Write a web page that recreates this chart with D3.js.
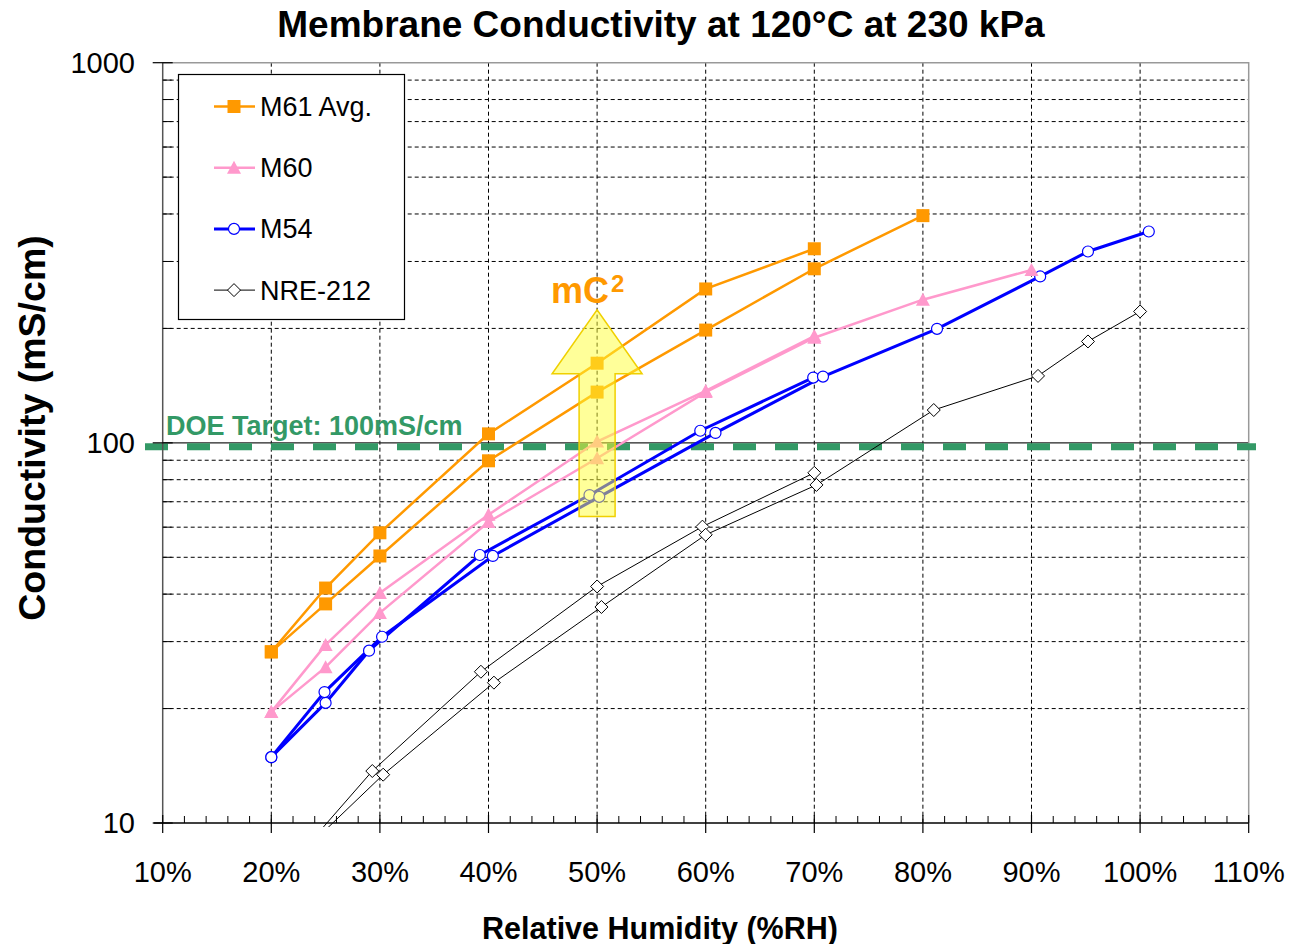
<!DOCTYPE html>
<html>
<head>
<meta charset="utf-8">
<script src="https://cdn.jsdelivr.net/npm/d3@7"></script>
<style>
  body { margin: 0; background: #fff; }
  svg { display: block; font-family: "Liberation Sans", Arial, sans-serif; }
</style>
</head>
<body>
<svg id="chart" width="1291" height="944"></svg>
<script>
// data (RH in %, conductivity in mS/cm)
var m61aRH  = [20, 25, 30, 40, 50, 60, 70];
var m61aVal = [28.2, 41.5, 58.0, 105.6, 162, 254, 324];
var m61bRH  = [20, 25, 30, 40, 50, 60, 70, 80];
var m61bVal = [28.2, 37.7, 50.4, 89.7, 136, 198, 287, 396];

var m60aRH  = [20, 25, 30, 40, 50, 60, 70];
var m60aVal = [19.6, 29.4, 40.3, 64.7, 100.8, 137, 191];
var m60bRH  = [20, 25, 30, 40, 50, 60, 70, 80, 90];
var m60bVal = [19.6, 25.7, 35.7, 61.9, 91.1, 136, 189, 238, 285];

var m54aRH  = [20, 25, 29, 39.2, 49.3, 59.5, 69.9];
var m54aVal = [14.9, 20.7, 28.4, 50.7, 72.9, 107.6, 148.5];
var m54bRH  = [20, 24.9, 30.2, 40.4, 50.2, 60.9, 70.8, 81.3, 90.8, 95.2, 100.8];
var m54bVal = [14.9, 22.1, 30.9, 50.4, 72.1, 106.2, 149.4, 199.5, 274, 318.7, 359.7];

var nreaRH  = [20, 29.3, 39.3, 50, 59.7, 70];
var nreaVal = [6.8, 13.7, 25.0, 41.9, 60.2, 83.4];
var nrebRH  = [20, 30.3, 40.5, 50.4, 60, 70.2, 81, 90.6, 95.2, 100];
var nrebVal = [7.0, 13.4, 23.4, 37.0, 57.3, 77.5, 122, 150, 184.8, 221.6];

var xTicks = [10, 20, 30, 40, 50, 60, 70, 80, 90, 100, 110];
var yTicks = [10, 100, 1000];
var yMinor = [20, 30, 40, 50, 60, 70, 80, 90, 200, 300, 400, 500, 600, 700, 800, 900];
var legendNames = ['M61 Avg.', 'M60', 'M54', 'NRE-212'];
var doeTarget = 100;
var arrowRH = 50, arrowFrom = 64, arrowBase = 152, arrowTip = 224;

// "top" is taken by window.top, so plot edges get their own names
var pLeft = 162.7, pRight = 1248.7, pTop = 62.7, pBottom = 823;
var x = d3.scaleLinear().domain([10, 110]).range([pLeft, pRight]);
var y = d3.scaleLog().domain([10, 1000]).range([pBottom, pTop]);
var svg = d3.select('#chart');

function zip(rh, val) {
  return rh.map(function(d, i) { return { rh: d, v: val[i] }; });
}

var series = [
  { name: legendNames[0], color: '#FF9900', width: 2.5, marker: 'square', lines: [zip(m61aRH, m61aVal), zip(m61bRH, m61bVal)] },
  { name: legendNames[1], color: '#FF99CC', width: 2.5, marker: 'triangle', lines: [zip(m60aRH, m60aVal), zip(m60bRH, m60bVal)] },
  { name: legendNames[2], color: '#0000FF', width: 3, marker: 'circle', lines: [zip(m54aRH, m54aVal), zip(m54bRH, m54bVal)] },
  { name: legendNames[3], color: '#000000', width: 1, marker: 'diamond', lines: [zip(nreaRH, nreaVal), zip(nrebRH, nrebVal)] }
];

function drawMarker(g, type, color, cx, cy) {
  if (type === 'square') {
    g.append('rect').attr('x', cx - 6.5).attr('y', cy - 6.5).attr('width', 13).attr('height', 13)
      .attr('fill', color);
  } else if (type === 'triangle') {
    g.append('path').attr('d', 'M' + cx + ',' + (cy - 7) + 'L' + (cx + 7) + ',' + (cy + 6) + 'L' + (cx - 7) + ',' + (cy + 6) + 'Z')
      .attr('fill', color);
  } else if (type === 'circle') {
    g.append('circle').attr('cx', cx).attr('cy', cy).attr('r', 5.5)
      .attr('fill', '#fff').attr('stroke', color).attr('stroke-width', 1.2);
  } else {
    g.append('path').attr('d', 'M' + cx + ',' + (cy - 6.5) + 'L' + (cx + 6.5) + ',' + cy + 'L' + cx + ',' + (cy + 6.5) + 'L' + (cx - 6.5) + ',' + cy + 'Z')
      .attr('fill', '#fff').attr('stroke', color).attr('stroke-width', 1);
  }
}

function gridSetup() {
  var grid = svg.append('g');
  grid.selectAll('.hgrid').data(yMinor).enter().append('line')
    .attr('x1', pLeft).attr('x2', pRight)
    .attr('y1', function(d) { return y(d); }).attr('y2', function(d) { return y(d); })
    .attr('stroke', '#000').attr('stroke-width', 1).attr('stroke-dasharray', '4,3');
  grid.selectAll('.vgrid').data(xTicks.slice(1, -1)).enter().append('line')
    .attr('x1', function(d) { return x(d); }).attr('x2', function(d) { return x(d); })
    .attr('y1', pTop).attr('y2', pBottom)
    .attr('stroke', '#000').attr('stroke-width', 1).attr('stroke-dasharray', '4,3');
  // solid line at 100 and plot border
  grid.append('line').attr('x1', pLeft).attr('x2', pRight).attr('y1', y(100)).attr('y2', y(100))
    .attr('stroke', '#222').attr('stroke-width', 1.2);
  grid.append('path')
    .attr('d', 'M' + pLeft + ',' + pTop + 'H' + pRight + 'V' + pBottom)
    .attr('fill', 'none').attr('stroke', '#999').attr('stroke-width', 1.5);
}

function axesSetup() {
  var g = svg.append('g');
  var xMinor = d3.range(12, 110, 2).filter(function(d) { return d % 10 !== 0; });
  var yMinorTicks = d3.range(2, 10).map(function(d) { return d * 10; })
    .concat(d3.range(2, 10).map(function(d) { return d * 100; }));

  g.append('line').attr('x1', pLeft).attr('x2', pLeft).attr('y1', pTop).attr('y2', pBottom)
    .attr('stroke', '#555').attr('stroke-width', 1.5);
  g.append('line').attr('x1', pLeft - 9).attr('x2', pRight).attr('y1', pBottom).attr('y2', pBottom)
    .attr('stroke', '#000').attr('stroke-width', 1.5);

  g.selectAll('.xmaj').data(xTicks).enter().append('line')
    .attr('x1', function(d) { return x(d); }).attr('x2', function(d) { return x(d); })
    .attr('y1', pBottom - 8).attr('y2', pBottom + 10).attr('stroke', '#000').attr('stroke-width', 1.2);
  g.selectAll('.xmin').data(xMinor).enter().append('line')
    .attr('x1', function(d) { return x(d); }).attr('x2', function(d) { return x(d); })
    .attr('y1', pBottom - 7).attr('y2', pBottom).attr('stroke', '#000').attr('stroke-width', 1);
  g.selectAll('.ymaj').data(yTicks).enter().append('line')
    .attr('x1', pLeft - 10).attr('x2', pLeft + 10)
    .attr('y1', function(d) { return y(d); }).attr('y2', function(d) { return y(d); })
    .attr('stroke', '#000').attr('stroke-width', 1.2);
  g.selectAll('.ymin').data(yMinorTicks).enter().append('line')
    .attr('x1', pLeft).attr('x2', pLeft + 9)
    .attr('y1', function(d) { return y(d); }).attr('y2', function(d) { return y(d); })
    .attr('stroke', '#000').attr('stroke-width', 1);

  g.selectAll('.xlab').data(xTicks).enter().append('text')
    .attr('x', function(d) { return x(d); }).attr('y', 882)
    .attr('text-anchor', 'middle').style('font-size', '29px')
    .text(function(d) { return d + '%'; });
  g.selectAll('.ylab').data(yTicks).enter().append('text')
    .attr('x', 135).attr('y', function(d) { return y(d) + 10; })
    .attr('text-anchor', 'end').style('font-size', '29px')
    .text(function(d) { return d; });
}

function targetSetup() {
  svg.append('line')
    .attr('x1', 145).attr('x2', 1256)
    .attr('y1', y(doeTarget) + 4).attr('y2', y(doeTarget) + 4)
    .attr('stroke', '#339966').attr('stroke-width', 7).attr('stroke-dasharray', '23,19');
  svg.append('text')
    .attr('x', 166).attr('y', 435)
    .attr('fill', '#339966').style('font-size', '27px').style('font-weight', 'bold')
    .text('DOE Target: 100mS/cm');
}

function seriesSetup() {
  svg.append('clipPath').attr('id', 'plotclip').append('rect')
    .attr('x', pLeft).attr('y', pTop - 10).attr('width', pRight - pLeft + 10).attr('height', pBottom - pTop + 14);
  var line = d3.line().x(function(d) { return x(d.rh); }).y(function(d) { return y(d.v); });
  var root = svg.append('g').attr('clip-path', 'url(#plotclip)');

  series.slice().reverse().forEach(function(s) {
    var g = root.append('g');
    s.lines.forEach(function(pts) {
      g.append('path').datum(pts).attr('d', line)
        .attr('fill', 'none').attr('stroke', s.color).attr('stroke-width', s.width);
    });
    s.lines.forEach(function(pts) {
      pts.forEach(function(d) { drawMarker(g, s.marker, s.color, x(d.rh), y(d.v)); });
    });
  });
}

function arrowSetup() {
  var cx = x(arrowRH);
  var shaft = 18, head = 45;
  var d = 'M' + (cx - shaft) + ',' + y(arrowFrom) +
    'V' + y(arrowBase) + 'H' + (cx - head) +
    'L' + cx + ',' + y(arrowTip) +
    'L' + (cx + head) + ',' + y(arrowBase) +
    'H' + (cx + shaft) + 'V' + y(arrowFrom) + 'Z';
  svg.append('path').attr('d', d)
    .attr('fill', '#ffff33').attr('fill-opacity', 0.5)
    .attr('stroke', '#f0d000').attr('stroke-width', 1.5);
  var t = svg.append('text').attr('x', 551).attr('y', 303)
    .attr('fill', '#FF9900').style('font-size', '36px').style('font-weight', 'bold');
  t.append('tspan').text('mC');
  t.append('tspan').attr('dx', 2).attr('dy', -11).style('font-size', '24px').text('2');
}

function legendSetup() {
  var g = svg.append('g');
  g.append('rect').attr('x', 178.5).attr('y', 74.5).attr('width', 226).attr('height', 245)
    .attr('fill', '#fff').attr('stroke', '#000').attr('stroke-width', 1.2);
  series.forEach(function(s, i) {
    var cy = 106.5 + i * 61.2;
    g.append('line').attr('x1', 214).attr('x2', 255).attr('y1', cy).attr('y2', cy)
      .attr('stroke', s.color).attr('stroke-width', s.width);
    drawMarker(g, s.marker, s.color, 234, cy);
    g.append('text').attr('x', 260).attr('y', cy + 9.5)
      .style('font-size', '27px').text(s.name);
  });
}

function labelsSetup() {
  svg.append('text').attr('x', 661).attr('y', 37)
    .attr('text-anchor', 'middle').style('font-size', '37px').style('font-weight', 'bold')
    .text('Membrane Conductivity at 120°C at 230 kPa');
  svg.append('text').attr('x', 660).attr('y', 939)
    .attr('text-anchor', 'middle').style('font-size', '30.5px').style('font-weight', 'bold')
    .text('Relative Humidity (%RH)');
  svg.append('text').attr('transform', 'translate(45,428) rotate(-90)')
    .attr('text-anchor', 'middle').style('font-size', '37.5px').style('font-weight', 'bold')
    .text('Conductivity (mS/cm)');
}

function init() {
  gridSetup();
  targetSetup();
  seriesSetup();
  axesSetup();
  arrowSetup();
  legendSetup();
  labelsSetup();
}

init();
</script>
</body>
</html>
